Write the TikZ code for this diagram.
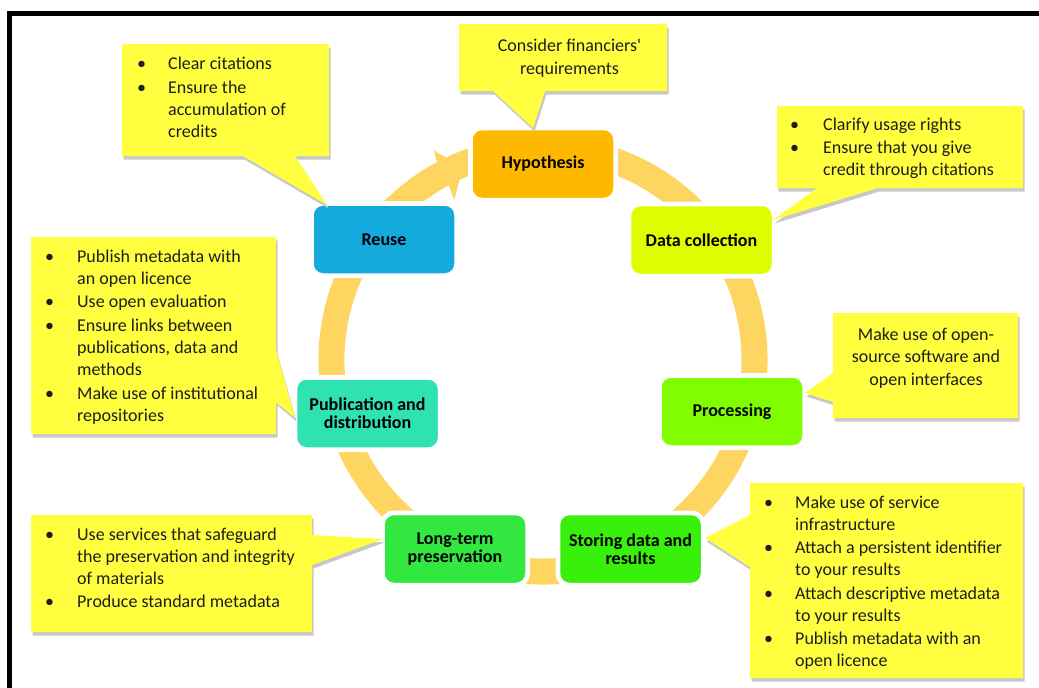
\documentclass[tikz,border=0pt]{standalone}
\usepackage{fontspec}
\setmainfont{Carlito}
\usetikzlibrary{calc}
\definecolor{hypc}{RGB}{255,184,0}
\definecolor{datc}{RGB}{222,254,0}
\definecolor{procc}{RGB}{128,254,0}
\definecolor{storc}{RGB}{56,240,12}
\definecolor{ltc}{RGB}{50,232,64}
\definecolor{pubc}{RGB}{46,226,178}
\definecolor{reusec}{RGB}{20,170,222}
\definecolor{ringc}{RGB}{253,213,96}
\definecolor{callc}{RGB}{255,255,64}
\definecolor{shadc}{RGB}{200,200,200}
\definecolor{txtc}{RGB}{30,30,30}
\newcommand\mycallout[1]{\fill[shadc,shift={(1.5,-3.5)}] #1; \fill[callc] #1;}
\tikzset{
  stage/.style={rounded corners=10, minimum width=142, minimum height=69,
    inner sep=2, align=center, text=black,
    font=\bfseries\fontsize{18}{18}\selectfont,
    preaction={draw=white, line width=8}, draw=white, line width=1.5},
  ctext/.style={inner sep=0, text=txtc, font=\fontsize{18}{22}\selectfont},
  ctextc/.style={inner sep=0, text=txtc},
}
\begin{document}
\begin{tikzpicture}[x=1pt,y=1pt]
\useasboundingbox (0,0) rectangle (1039,-688);
\clip (0,0) rectangle (1039,-688);
\fill[white] (0,0) rectangle (1039,-688);
\draw[line width=4.5] (9.5,-13.5) rectangle (1070,-730);
% ring
\coordinate (c) at (543,-360);
\draw[ringc, line width=26] ($(c)+(118:211.5)$) arc[start angle=118, end angle=-290, radius=211.5];
\fill[ringc] ($(c)+(112.5:209)$) -- ($(c)+(117.5:236)$) -- ($(c)+(118.3:223)$) -- ($(c)+(118.3:200)$) -- ($(c)+(119:183)$) -- cycle;
% stages
\node[stage, fill=hypc] (hyp) at (543,-164) {Hypothesis};
\node[stage, fill=datc] (dat) at (701.5,-240) {Data collection};
\node[stage, fill=procc] (proc) at (732,-411.5) {Processing};
\node[stage, fill=storc] (stor) at (630.5,-549) {Storing data and\\results};
\node[stage, fill=ltc] (lt) at (455,-549) {Long-term\\preservation};
\node[stage, fill=pubc] (pub) at (367.5,-413.5) {Publication and\\distribution};
\node[stage, fill=reusec] (reuse) at (384,-239.5) {Reuse};
% callouts
\mycallout{(122,-44) -- (329,-44) -- (329,-156) -- (295,-156) -- (327,-205) -- (243,-156) -- (122,-156) -- cycle}
\mycallout{(459,-24) -- (667,-24) -- (667,-91) -- (545,-91) -- (533,-128) -- (493,-91) -- (459,-91) -- cycle}
\mycallout{(777,-106) -- (1023,-106) -- (1023,-188) -- (878,-188) -- (773,-220) -- (817,-188) -- (777,-188) -- cycle}
\mycallout{(833,-313) -- (1018,-313) -- (1018,-418) -- (833,-418) -- (833,-402) -- (805,-393) -- (833,-373) -- cycle}
\mycallout{(750,-483) -- (1023,-483) -- (1023,-678) -- (750,-678) -- (750,-567) -- (705,-538) -- (750,-515) -- cycle}
\mycallout{(31,-515) -- (312,-515) -- (312,-535) -- (383,-539) -- (312,-565) -- (312,-632) -- (31,-632) -- cycle}
\mycallout{(31,-237) -- (276,-237) -- (276,-350) -- (295,-418) -- (276,-402) -- (276,-434) -- (31,-434) -- cycle}
% callout texts
\node[ctext, anchor=base west] (treuse) at (137,-69) {\begin{tabular}[t]{@{}p{31pt}@{}l@{}}
\textbullet & Clear citations\\[2.5pt]
\textbullet & Ensure the\\ & accumulation of\\ & credits\end{tabular}};
\node[ctextc, anchor=base, font=\fontsize{18}{23}\selectfont] (thyp) at (569.5,-51) {\begin{tabular}[t]{@{}c@{}}Consider financiers\textquotesingle\\requirements\end{tabular}};
\node[ctext, anchor=base west] (tdat) at (790,-130) {\begin{tabular}[t]{@{}p{33pt}@{}l@{}}
\textbullet & Clarify usage rights\\[1pt]
\textbullet & Ensure that you give\\ & credit through citations\end{tabular}};
\node[ctextc, anchor=base, font=\fontsize{18}{22.5}\selectfont] (tproc) at (926,-340) {\begin{tabular}[t]{@{}c@{}}Make use of open-\\source software and\\open interfaces\end{tabular}};
\node[ctext, anchor=base west] (tstor) at (764,-508) {\begin{tabular}[t]{@{}p{31pt}@{}l@{}}
\textbullet & Make use of service\\ & infrastructure\\[1.5pt]
\textbullet & Attach a persistent identifier\\ & to your results\\[1.5pt]
\textbullet & Attach descriptive metadata\\ & to your results\\[1.5pt]
\textbullet & Publish metadata with an\\ & open licence\end{tabular}};
\node[ctext, anchor=base west] (tlt) at (45,-540) {\begin{tabular}[t]{@{}p{32pt}@{}l@{}}
\textbullet & Use services that safeguard\\ & the preservation and integrity\\ & of materials\\[1.5pt]
\textbullet & Produce standard metadata\end{tabular}};
\node[ctext, anchor=base west] (tpub) at (45,-262) {\begin{tabular}[t]{@{}p{32pt}@{}l@{}}
\textbullet & Publish metadata with\\ & an open licence\\[1.5pt]
\textbullet & Use open evaluation\\[1.5pt]
\textbullet & Ensure links between\\ & publications, data and\\ & methods\\[2pt]
\textbullet & Make use of institutional\\ & repositories\end{tabular}};
\end{tikzpicture}
\end{document}
